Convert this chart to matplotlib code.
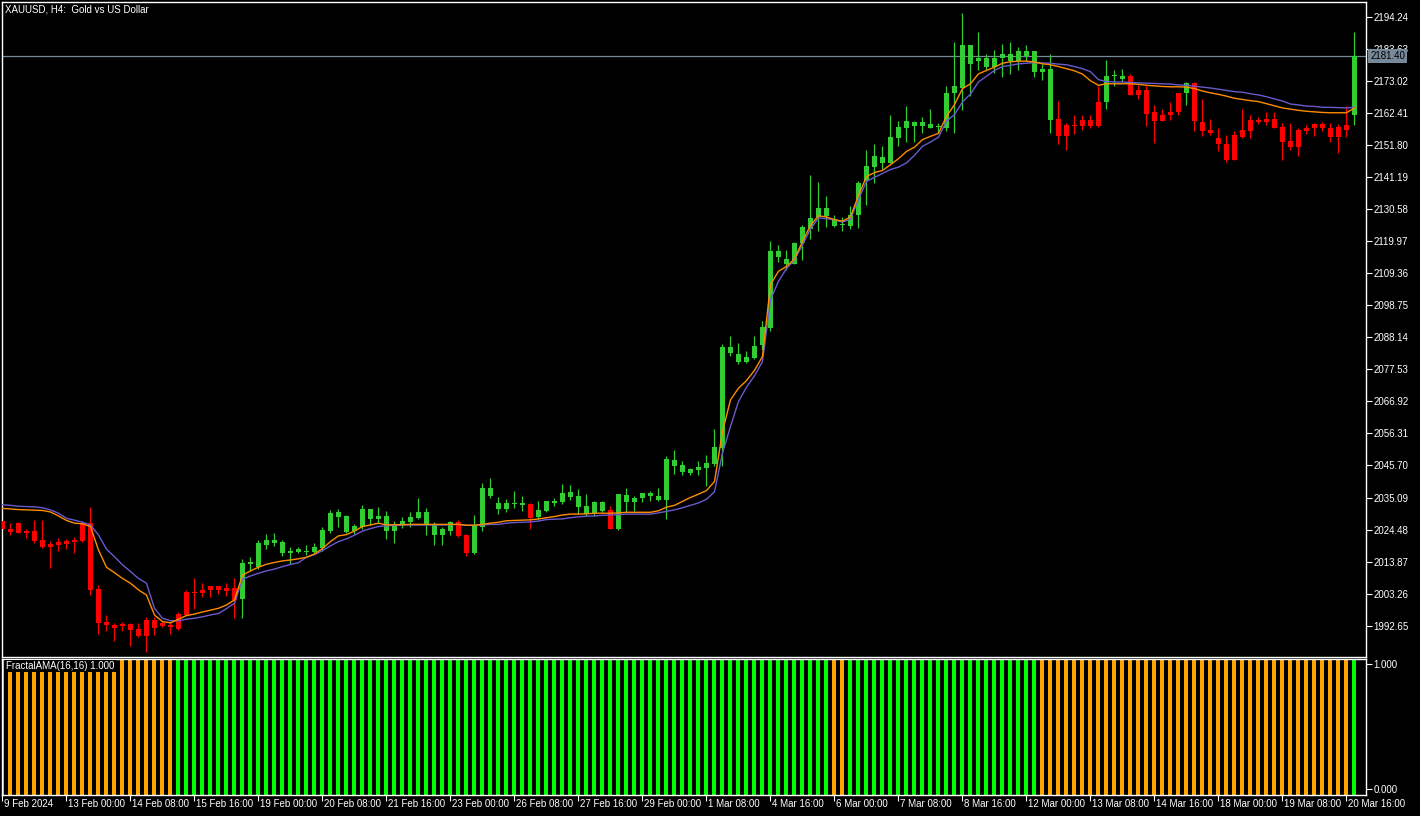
# XAUUSD H4 candles with FractalAMA lines and trend histogram (MT4 style)
import matplotlib
matplotlib.use("Agg")
from matplotlib import pyplot as plt
from matplotlib.transforms import blended_transform_factory
import numpy as np

plt.rcParams['font.family'] = ['Liberation Sans', 'DejaVu Sans']

# ---- data ----
opens = [2027.3, 2024.7, 2026.5, 2024.1, 2023.9, 2021.0, 2019.7, 2020.2, 2020.6, 2020.9,
         2026.6, 2026.6, 2004.8, 1994.0, 1993.0, 1993.2, 1993.3, 1991.5, 1994.5, 1994.5,
         1993.5, 1992.9, 1996.5, 2003.8, 2003.8, 2004.5, 2005.8, 2005.8, 2005.1, 2005.1,
         2001.5, 2013.1, 2012.1, 2019.4, 2020.1, 2016.7, 2016.7, 2017.1, 2017.0, 2017.1,
         2018.4, 2024.0, 2028.7, 2023.7, 2024.0, 2025.4, 2028.0, 2028.0, 2024.0, 2024.0,
         2026.0, 2027.0, 2028.3, 2026.4, 2022.7, 2022.7, 2024.0, 2027.0, 2022.7, 2016.7,
         2025.4, 2035.6, 2031.3, 2031.3, 2033.1, 2032.6, 2033.0, 2028.7, 2030.7, 2033.3,
         2033.6, 2035.3, 2032.0, 2029.7, 2030.0, 2030.7, 2031.0, 2024.7, 2033.6, 2033.6,
         2035.0, 2035.6, 2034.3, 2034.3, 2045.6, 2043.6, 2043.2, 2044.2, 2044.9, 2046.2,
         2051.5, 2083.0, 2080.0, 2080.0, 2081.4, 2085.7, 2091.3, 2114.8, 2112.5, 2112.5,
         2119.5, 2124.1, 2128.1, 2128.4, 2125.1, 2125.3, 2125.1, 2128.5, 2140.0, 2144.7,
         2146.0, 2146.0, 2154.3, 2157.6, 2158.2, 2158.2, 2157.6, 2157.7, 2157.6, 2168.9,
         2170.8, 2178.5, 2179.5, 2177.8, 2177.8, 2180.5, 2179.5, 2179.8, 2181.4, 2176.1,
         2176.1, 2160.2, 2160.6, 2158.6, 2158.6, 2160.2, 2160.2, 2166.2, 2165.9, 2174.6,
         2173.8, 2174.8, 2170.2, 2170.2, 2162.6, 2161.9, 2162.9, 2169.2, 2168.9, 2172.2,
         2159.6, 2156.9, 2154.3, 2152.3, 2155.3, 2156.9, 2160.2, 2160.2, 2160.6, 2160.6,
         2157.9, 2153.3, 2156.9, 2157.6, 2158.9, 2158.9, 2157.6, 2157.9, 2158.3, 2161.6]
highs = [2027.5, 2026.7, 2027.0, 2024.6, 2027.7, 2027.7, 2020.7, 2021.7, 2021.4, 2022.0,
         2027.1, 2032.1, 2006.0, 1996.2, 1993.5, 1993.9, 1993.5, 1993.5, 1995.5, 1995.5,
         1994.2, 1993.9, 1997.2, 2004.5, 2008.5, 2006.8, 2005.8, 2005.8, 2006.8, 2008.5,
         2014.8, 2015.4, 2021.1, 2023.0, 2023.4, 2021.1, 2018.7, 2018.7, 2019.4, 2020.1,
         2025.4, 2031.0, 2031.3, 2029.3, 2026.4, 2032.7, 2031.3, 2032.0, 2030.7, 2027.4,
         2028.7, 2030.3, 2035.0, 2031.7, 2027.0, 2025.4, 2027.4, 2027.7, 2023.0, 2029.3,
         2040.0, 2041.6, 2035.3, 2034.6, 2037.3, 2035.6, 2033.3, 2034.0, 2034.0, 2035.0,
         2039.6, 2039.3, 2038.0, 2036.3, 2034.0, 2034.0, 2032.3, 2036.3, 2038.3, 2035.6,
         2036.6, 2037.3, 2038.3, 2048.9, 2050.9, 2047.2, 2044.9, 2047.2, 2049.2, 2057.8,
         2086.0, 2088.7, 2086.3, 2083.7, 2088.7, 2093.6, 2120.1, 2118.8, 2117.2, 2119.8,
         2125.5, 2142.0, 2139.7, 2135.1, 2128.8, 2128.1, 2131.7, 2140.0, 2150.3, 2152.3,
         2151.6, 2161.9, 2159.9, 2164.9, 2159.9, 2161.2, 2163.9, 2159.2, 2171.2, 2185.8,
         2195.4, 2185.1, 2189.1, 2181.8, 2183.4, 2185.4, 2185.8, 2184.4, 2184.8, 2183.1,
         2178.8, 2182.1, 2166.5, 2159.2, 2161.6, 2161.6, 2161.6, 2171.2, 2180.1, 2176.8,
         2177.1, 2175.5, 2171.8, 2171.2, 2165.2, 2163.9, 2166.2, 2169.2, 2172.8, 2172.8,
         2166.9, 2160.6, 2157.6, 2155.3, 2156.3, 2163.6, 2161.6, 2161.2, 2162.9, 2162.9,
         2159.2, 2159.2, 2157.6, 2158.6, 2159.2, 2159.6, 2159.2, 2158.9, 2164.9, 2189.1]
lows = [2024.5, 2022.7, 2023.4, 2021.8, 2020.1, 2018.4, 2011.9, 2017.4, 2018.1, 2016.7,
        2020.2, 2002.8, 1989.9, 1990.9, 1987.6, 1991.0, 1985.9, 1988.9, 1983.9, 1989.6,
        1992.2, 1989.9, 1991.2, 1996.1, 1998.2, 2002.2, 2002.2, 2003.1, 2002.5, 1995.2,
        1995.2, 2010.8, 2011.4, 2018.1, 2019.1, 2015.7, 2013.1, 2016.7, 2016.1, 2016.7,
        2017.4, 2023.4, 2025.4, 2023.4, 2023.0, 2024.7, 2026.0, 2026.7, 2021.4, 2020.1,
        2025.0, 2025.4, 2028.0, 2022.7, 2019.4, 2019.4, 2022.7, 2022.0, 2015.7, 2016.4,
        2024.0, 2035.0, 2029.7, 2030.3, 2031.7, 2030.7, 2024.7, 2028.0, 2030.3, 2032.3,
        2033.0, 2034.3, 2029.7, 2029.0, 2029.0, 2030.3, 2024.7, 2024.4, 2030.3, 2030.7,
        2033.6, 2034.0, 2034.0, 2028.0, 2042.9, 2042.6, 2042.6, 2042.6, 2038.9, 2045.6,
        2045.6, 2082.0, 2079.4, 2079.7, 2081.0, 2084.0, 2090.3, 2113.2, 2110.5, 2112.5,
        2113.8, 2120.8, 2123.5, 2124.8, 2124.8, 2123.5, 2124.1, 2124.5, 2132.1, 2139.4,
        2144.0, 2146.0, 2151.6, 2152.9, 2152.9, 2155.9, 2157.6, 2155.9, 2156.3, 2155.9,
        2163.5, 2168.2, 2176.8, 2176.5, 2175.8, 2174.5, 2175.2, 2176.8, 2179.5, 2174.2,
        2173.5, 2155.9, 2152.3, 2150.3, 2155.6, 2156.9, 2157.3, 2157.9, 2163.6, 2171.5,
        2172.8, 2168.5, 2167.2, 2158.2, 2152.6, 2159.9, 2160.2, 2161.6, 2165.2, 2156.3,
        2154.9, 2155.3, 2150.0, 2146.3, 2146.7, 2154.3, 2154.3, 2158.9, 2158.3, 2157.6,
        2147.0, 2150.3, 2148.3, 2155.6, 2154.9, 2156.3, 2152.9, 2149.3, 2154.6, 2158.6]
closes = [2024.7, 2023.8, 2023.5, 2023.5, 2020.7, 2018.7, 2018.7, 2019.3, 2019.8, 2020.2,
          2020.7, 2004.5, 1993.5, 1992.9, 1992.0, 1992.7, 1991.3, 1989.2, 1989.2, 1991.9,
          1992.5, 1992.2, 1991.5, 1996.2, 2003.6, 2003.5, 2004.5, 2004.5, 2004.1, 2001.2,
          2013.4, 2013.8, 2020.1, 2021.1, 2021.1, 2020.4, 2017.4, 2018.1, 2017.2, 2018.7,
          2024.4, 2030.0, 2030.3, 2029.0, 2025.7, 2031.3, 2031.3, 2029.0, 2029.0, 2026.0,
          2027.4, 2028.7, 2030.3, 2030.3, 2026.0, 2024.7, 2027.0, 2022.4, 2016.7, 2025.7,
          2038.3, 2038.3, 2033.3, 2033.3, 2033.3, 2033.3, 2028.3, 2031.0, 2034.0, 2034.1,
          2036.6, 2037.0, 2035.6, 2032.3, 2033.6, 2033.6, 2024.7, 2036.3, 2036.0, 2035.0,
          2036.6, 2036.6, 2035.6, 2047.9, 2047.6, 2045.9, 2044.6, 2045.2, 2046.6, 2051.9,
          2085.0, 2085.0, 2082.7, 2081.7, 2085.3, 2091.6, 2116.8, 2116.8, 2114.2, 2119.5,
          2124.8, 2127.8, 2131.1, 2131.1, 2127.4, 2125.4, 2128.8, 2139.4, 2145.0, 2148.3,
          2148.0, 2154.6, 2157.9, 2159.9, 2159.6, 2159.6, 2158.9, 2157.9, 2169.2, 2171.5,
          2185.1, 2185.1, 2180.5, 2180.5, 2180.8, 2182.1, 2182.1, 2182.8, 2182.8, 2182.8,
          2177.1, 2177.1, 2154.9, 2154.9, 2158.2, 2158.2, 2158.2, 2158.2, 2174.8, 2174.8,
          2174.8, 2168.5, 2168.5, 2162.2, 2159.9, 2159.9, 2161.9, 2162.6, 2172.2, 2159.9,
          2156.6, 2155.9, 2152.0, 2146.7, 2146.7, 2154.6, 2156.6, 2159.6, 2159.6, 2157.6,
          2152.9, 2151.0, 2151.3, 2156.6, 2157.6, 2157.6, 2154.6, 2154.6, 2156.9, 2181.4]

# FractalAMA lines (blue = slow, orange = fast)
ama_blue = [2032.7, 2032.5, 2032.2, 2032.1, 2032.0, 2031.7, 2031.0, 2029.9, 2028.2, 2027.6,
            2026.9, 2026.0, 2022.7, 2018.0, 2015.5, 2012.8, 2010.6, 2008.3, 2006.7, 1998.4,
            1995.1, 1994.3, 1994.3, 1994.8, 1995.1, 1995.6, 1996.2, 1996.7, 1998.3, 2000.1,
            2008.0, 2009.1, 2010.0, 2010.8, 2011.4, 2012.2, 2012.9, 2013.5, 2015.3, 2016.2,
            2017.5, 2019.1, 2020.5, 2021.4, 2022.6, 2024.0, 2024.8, 2025.5, 2025.7, 2025.9,
            2026.0, 2026.0, 2026.0, 2026.0, 2026.0, 2026.0, 2026.1, 2026.2, 2025.9, 2025.9,
            2026.0, 2026.2, 2026.2, 2026.6, 2026.8, 2026.9, 2027.0, 2027.3, 2027.8, 2027.9,
            2028.0, 2028.4, 2028.7, 2028.9, 2029.0, 2029.2, 2029.3, 2029.4, 2029.6, 2029.6,
            2029.6, 2029.6, 2030.0, 2030.5, 2031.0, 2031.7, 2032.5, 2033.3, 2034.5, 2037.0,
            2049.8, 2058.6, 2066.9, 2071.6, 2075.4, 2080.1, 2100.6, 2106.7, 2110.9, 2113.8,
            2118.8, 2124.0, 2127.7, 2127.4, 2127.1, 2126.3, 2127.3, 2133.8, 2139.8, 2141.1,
            2142.4, 2143.7, 2144.5, 2145.9, 2148.4, 2151.4, 2152.8, 2154.4, 2159.7, 2161.9,
            2166.1, 2168.7, 2172.7, 2174.6, 2176.5, 2177.8, 2178.2, 2178.7, 2178.9, 2179.1,
            2179.0, 2178.9, 2178.6, 2178.4, 2177.8, 2177.1, 2176.1, 2173.5, 2172.8, 2172.7,
            2172.7, 2172.5, 2172.4, 2172.3, 2172.2, 2172.1, 2172.0, 2171.7, 2171.6, 2171.3,
            2171.0, 2170.7, 2170.3, 2169.9, 2169.5, 2169.3, 2168.8, 2168.4, 2167.8, 2167.1,
            2166.4, 2165.4, 2165.1, 2164.7, 2164.6, 2164.3, 2164.3, 2164.2, 2164.1, 2164.3]
ama_orange = [2031.5, 2031.3, 2031.1, 2031.0, 2030.9, 2030.8, 2030.3, 2029.0, 2027.5, 2026.6,
              2026.4, 2025.5, 2017.7, 2012.0, 2010.2, 2008.3, 2006.7, 2004.5, 2002.8, 1996.2,
              1994.0, 1993.6, 1994.8, 1996.0, 1996.5, 1997.2, 1997.8, 1998.4, 1999.5, 2001.2,
              2009.4, 2010.8, 2012.0, 2013.0, 2013.6, 2014.1, 2014.4, 2014.8, 2015.3, 2016.4,
              2018.2, 2020.5, 2022.4, 2022.8, 2024.0, 2025.5, 2026.0, 2026.6, 2026.0, 2026.1,
              2026.1, 2026.2, 2026.2, 2026.2, 2026.2, 2026.2, 2026.2, 2026.2, 2025.9, 2025.9,
              2026.2, 2026.6, 2026.9, 2027.4, 2027.5, 2027.6, 2027.7, 2028.0, 2028.4, 2028.8,
              2029.3, 2029.6, 2029.6, 2029.7, 2029.9, 2029.9, 2029.9, 2030.0, 2030.2, 2030.2,
              2030.2, 2030.2, 2030.7, 2031.9, 2032.5, 2033.8, 2035.1, 2036.2, 2037.4, 2040.4,
              2056.9, 2067.4, 2071.3, 2073.8, 2077.2, 2081.8, 2105.6, 2110.0, 2111.6, 2114.1,
              2119.9, 2125.2, 2128.4, 2128.0, 2127.1, 2126.6, 2128.0, 2135.1, 2141.4, 2142.7,
              2143.4, 2145.3, 2147.3, 2149.7, 2151.1, 2153.6, 2154.7, 2155.7, 2161.3, 2165.2,
              2170.5, 2172.1, 2175.4, 2176.5, 2177.6, 2178.9, 2179.4, 2179.6, 2179.6, 2179.3,
              2178.7, 2178.4, 2177.8, 2177.1, 2176.4, 2175.3, 2173.1, 2171.6, 2172.1, 2172.1,
              2172.1, 2172.1, 2171.9, 2171.6, 2171.4, 2171.2, 2171.1, 2171.1, 2171.0, 2170.5,
              2169.7, 2169.1, 2168.6, 2168.0, 2167.3, 2166.9, 2166.5, 2166.2, 2165.5, 2164.8,
              2164.1, 2163.7, 2163.3, 2163.0, 2162.8, 2162.6, 2162.5, 2162.5, 2162.5, 2164.1]

# histogram trend runs: (direction, number of bars)
trend_runs = [(-1, 22), (1, 82), (-1, 2), (1, 24), (-1, 39), (1, 1)]

price_ticks = [1992.65, 2003.26, 2013.87, 2024.48, 2035.09, 2045.70, 2056.31, 2066.92,
               2077.53, 2088.14, 2098.75, 2109.36, 2119.97, 2130.58, 2141.19, 2151.80,
               2162.41, 2173.02, 2183.63, 2194.24]
time_labels = ["9 Feb 2024", "13 Feb 00:00", "14 Feb 08:00", "15 Feb 16:00", "19 Feb 00:00",
               "20 Feb 08:00", "21 Feb 16:00", "23 Feb 00:00", "26 Feb 08:00", "27 Feb 16:00",
               "29 Feb 00:00", "1 Mar 08:00", "4 Mar 16:00", "6 Mar 00:00", "7 Mar 08:00",
               "8 Mar 16:00", "12 Mar 00:00", "13 Mar 08:00", "14 Mar 16:00", "18 Mar 00:00",
               "19 Mar 08:00", "20 Mar 16:00"]
bid = 2181.40

# ---- colours ----
BULL = '#32CD32'
BEAR = '#FF0000'
HIST_UP = '#00FF00'
HIST_DN = '#FFA500'
FS = 7

W, H = 1420, 816
fig = plt.figure(figsize=(W / 100, H / 100), dpi=100, facecolor='black')
ax = fig.add_axes([2 / W, 1 - 657 / H, 1364 / W, 655 / H], facecolor='black')
ax2 = fig.add_axes([2 / W, 1 - 795 / H, 1364 / W, 136 / H], facecolor='black')

n = len(closes)
x = np.arange(n)
o = np.array(opens)
c = np.array(closes)
up = c >= o
cols = np.where(up, BULL, BEAR)

# candles
ax.vlines(x, lows, highs, colors=cols, linewidth=0.9, zorder=2)
body_lo = np.minimum(o, c)
body_h = np.maximum(np.abs(c - o), 0.3)
ax.bar(x, body_h, bottom=body_lo, width=0.62, color=cols, linewidth=0, zorder=3)

# AMA lines
ax.plot(x, ama_blue, color='#6A5ACD', linewidth=1.0, zorder=4)
ax.plot(x, ama_orange, color='#FF8C00', linewidth=1.0, zorder=4)

# bid line
ax.axhline(bid, color='#778899', linewidth=0.9, zorder=1)

ax.set_xlim(-0.06, 170.44)
ax.set_ylim(1982.28, 2199.18)
ax.set_xticks([])
ax.yaxis.tick_right()
ax.set_yticks(price_ticks)
ax.set_yticklabels([f"{v:.2f}" for v in price_ticks])
ax.tick_params(axis='y', colors='white', labelsize=FS, length=4, width=0.8, pad=1.5)
for s in ax.spines.values():
    s.set_color('white')
    s.set_linewidth(1)

# bid label box on price axis
ytr = blended_transform_factory(ax.transAxes, ax.transData)
ax.text(1.003, bid, f"{bid:.2f}", transform=ytr, fontsize=FS, color='black',
        va='center', ha='left', zorder=10,
        bbox=dict(facecolor='#778899', edgecolor='none', pad=1.5))

# indicator histogram (MT4 fills the whole sub-window, so bars run edge to edge)
trend = []
for d, cnt in trend_runs:
    trend += [d] * cnt
hcols = [HIST_UP if t > 0 else HIST_DN for t in trend]
ylo, yhi = -0.048, 1.04
ax2.bar(x, np.ones(n) + (yhi - 1) - ylo, bottom=ylo, width=0.5, color=hcols, linewidth=0)
ax2.set_xlim(-0.06, 170.44)
ax2.set_ylim(ylo, yhi)
ax2.yaxis.tick_right()
ax2.set_yticks([0, 1])
ax2.set_yticklabels(["0.000", "1.000"])
ax2.tick_params(axis='y', colors='white', labelsize=FS, length=4, width=0.8, pad=1.5)
ax2.set_xticks(np.arange(0, n, 8))
ax2.set_xticklabels([])
ax2.tick_params(axis='x', colors='white', direction='out', length=4, width=0.8)
for s in ax2.spines.values():
    s.set_color('white')
    s.set_linewidth(1)

# time labels, left aligned next to each tick
xtr = blended_transform_factory(ax2.transData, fig.transFigure)
for i, lab in enumerate(time_labels):
    ax2.text(i * 8 + 0.15, 1 - 804 / H, lab, transform=xtr, fontsize=FS, color='white',
             ha='left', va='center', clip_on=False)

# titles
fig.text(5 / W, 1 - 9 / H, "XAUUSD, H4:  Gold vs US Dollar", fontsize=FS, color='white',
         ha='left', va='center')
fig.text(6 / W, 1 - 666 / H, "FractalAMA(16,16) 1.000", fontsize=FS, color='white',
         ha='left', va='center', zorder=10,
         bbox=dict(facecolor='black', edgecolor='none', pad=1))

fig.savefig('out.png', dpi=100, facecolor='black')
